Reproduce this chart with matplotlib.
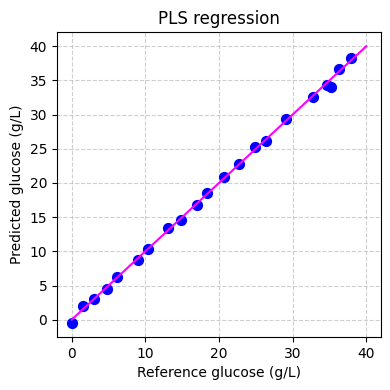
import numpy as np
import matplotlib
matplotlib.use("Agg")
import matplotlib.pyplot as plt

# reference vs predicted glucose (g/L)
y_ref = [0.0, 1.6, 3.0, 4.8, 6.2, 9.0, 10.4, 13.1, 14.8, 17.0, 18.4,
         20.7, 22.7, 24.9, 26.4, 29.1, 32.8, 34.6, 35.2, 36.3, 37.9]
y_pred = [-0.5, 2.0, 3.1, 4.5, 6.2, 8.7, 10.3, 13.4, 14.6, 16.8, 18.6,
          20.9, 22.7, 25.2, 26.2, 29.4, 32.6, 34.3, 34.1, 36.6, 38.3]
line_lim = [0, 40]

plt.figure(figsize=(3.9, 3.9), dpi=100)
plt.scatter(y_ref, y_pred, color="blue", s=50, zorder=3)
plt.plot(line_lim, line_lim, color="magenta", linewidth=1.5, zorder=4)
plt.title("PLS regression")
plt.xlabel("Reference glucose (g/L)")
plt.ylabel("Predicted glucose (g/L)")
plt.grid(True, linestyle="--", alpha=0.6)
plt.subplots_adjust(left=0.146, right=0.977, bottom=0.136, top=0.917)
plt.savefig("out.png")
